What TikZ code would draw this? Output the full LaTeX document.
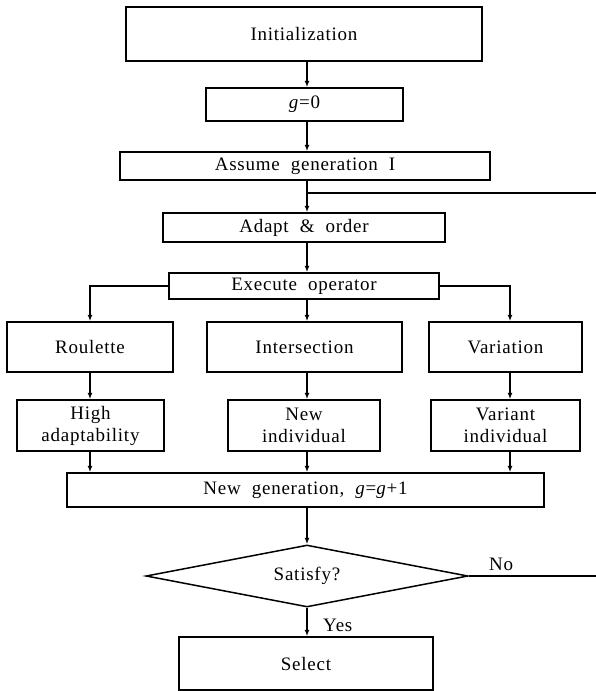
\documentclass[tikz,border=0pt]{standalone}
\usepackage{fontspec}
\setmainfont{Liberation Serif}[LetterSpace=4, WordSpace=2]
\usetikzlibrary{arrows.meta,shapes.geometric}
\begin{document}
\begin{tikzpicture}[x=1pt,y=-1pt,
  txt/.style={font=\fontsize{19}{22}\selectfont},
  box/.style={draw, line width=1.5pt, inner sep=0pt, txt, align=center},
  arr/.style={-{Latex[length=6.5pt,width=5pt]}, line width=1.3pt},
  ln/.style={line width=1.3pt},
  lbl/.style={txt, inner sep=0pt}]
\useasboundingbox (0,0) rectangle (596,691);
\fill[white] (0,0) rectangle (596,691);
\coordinate (ax) at (307,0);
\coordinate (cl) at (90,0);
\coordinate (cr) at (510,0);
\node[box, minimum width=356pt, minimum height=54pt] (init) at (304,34) {Initialization};
\node[box, minimum width=197pt, minimum height=33pt] (g0) at (304.5,104.5) {\textit{g}=0};
\node[box, minimum width=370pt, minimum height=28pt] (assume) at (305,166) {Assume generation I};
\node[box, minimum width=282pt, minimum height=29pt] (adapt) at (304,227.5) {Adapt \& order};
\node[box, minimum width=270pt, minimum height=26pt] (exec) at (304,286) {Execute operator};
\node[box, minimum width=166pt, minimum height=50pt] (roul) at (90,347) {Roulette};
\node[box, minimum width=195pt, minimum height=50pt] (inter) at (304.5,347) {Intersection};
\node[box, minimum width=153pt, minimum height=50pt] (vari) at (505.5,347) {Variation};
\node[box, minimum width=147pt, minimum height=51pt] (high) at (90.5,425.5) {High\\adaptability};
\node[box, minimum width=152pt, minimum height=51pt] (newind) at (304,425.5) {New\\individual};
\node[box, minimum width=149pt, minimum height=51pt] (variant) at (505.5,425.5) {Variant\\individual};
\node[box, minimum width=477pt, minimum height=34pt] (newgen) at (305.5,490) {New generation, \textit{g}=\textit{g}+1};
\node[box, shape=diamond, shape aspect=5.2, minimum width=322pt, minimum height=62pt] (sat) at (307,576) {Satisfy?};
\node[box, minimum width=254pt, minimum height=53pt] (sel) at (306,663.5) {Select};
\coordinate (loopr) at (602,576);
\coordinate (loopt) at (602,193);
\coordinate (loopj) at (307,193);
\draw[arr] (init.south -| ax) -- (g0.north -| ax);
\draw[arr] (g0.south -| ax) -- (assume.north -| ax);
\draw[arr] (assume.south -| ax) -- (adapt.north -| ax);
\draw[arr] (adapt.south -| ax) -- (exec.north -| ax);
\draw[arr] (exec.west) -| (roul.north -| cl);
\draw[arr] (exec.south -| ax) -- (inter.north -| ax);
\draw[arr] (exec.east) -| (vari.north -| cr);
\draw[arr] (roul.south -| cl) -- (high.north -| cl);
\draw[arr] (inter.south -| ax) -- (newind.north -| ax);
\draw[arr] (vari.south -| cr) -- (variant.north -| cr);
\draw[arr] (high.south -| cl) -- (newgen.north -| cl);
\draw[arr] (newind.south -| ax) -- (newgen.north -| ax);
\draw[arr] (variant.south -| cr) -- (newgen.north -| cr);
\draw[arr] (newgen.south -| ax) -- (sat.north);
\draw[arr] (sat.south) -- (sel.north -| sat.south);
\draw[ln] (sat.east) -- (loopr) -- (loopt) -- (loopj);
\node[lbl, anchor=west] (no) at (489,564) {No};
\node[lbl, anchor=west] (yes) at (323,625) {Yes};
\end{tikzpicture}
\end{document}
